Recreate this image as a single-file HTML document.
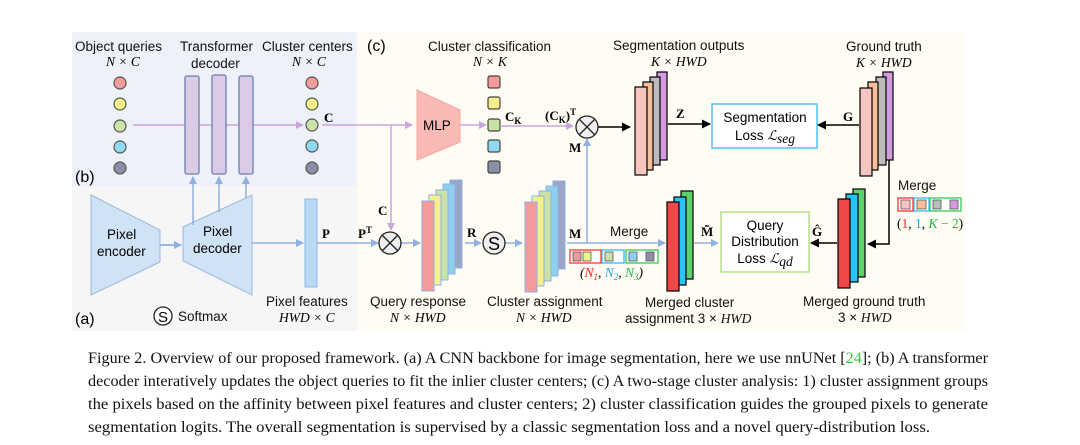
<!DOCTYPE html>
<html><head><meta charset="utf-8"><style>
html,body{margin:0;padding:0;background:#fff;}
svg{display:block;font-family:"Liberation Sans",sans-serif;}
.s{font-family:"Liberation Serif",serif;}
.l{font-size:13.5px;fill:#111;}
.m{font-family:"Liberation Serif",serif;font-style:italic;font-size:13.5px;}
.b{font-family:"Liberation Serif",serif;font-weight:bold;font-size:13px;}
</style></head><body>
<svg width="1080" height="445" viewBox="0 0 1080 445">
<defs>
<marker id="ap" markerWidth="8" markerHeight="8" refX="7" refY="4" orient="auto" markerUnits="userSpaceOnUse"><path d="M0,0 L8,4 L0,8 z" fill="#c9a6dc"/></marker>
<marker id="ab" markerWidth="8" markerHeight="8" refX="7" refY="4" orient="auto" markerUnits="userSpaceOnUse"><path d="M0,0 L8,4 L0,8 z" fill="#8fb0e0"/></marker>
<marker id="ak" markerWidth="9" markerHeight="9" refX="8" refY="4.5" orient="auto" markerUnits="userSpaceOnUse"><path d="M0,0 L9,4.5 L0,9 z" fill="#000"/></marker>
</defs>
<rect x="72" y="32" width="285" height="154" fill="#eef1fa"/>
<rect x="72" y="186" width="285" height="145" fill="#f6f6f6"/>
<rect x="357" y="32" width="608" height="299" fill="#fefcf3"/>

<!-- labels top -->
<text x="75" y="51" class="l">Object queries</text>
<text x="106" y="66" class="m">N × C</text>
<text x="180" y="51" class="l">Transformer</text>
<text x="191" y="68" class="l">decoder</text>
<text x="262" y="51" class="l">Cluster centers</text>
<text x="292" y="66" class="m">N × C</text>
<text x="367" y="51" style="font-size:16px">(c)</text>
<text x="428" y="51" class="l">Cluster classification</text>
<text x="473" y="66" class="m">N × K</text>
<text x="613" y="50" class="l">Segmentation outputs</text>
<text x="651" y="66" class="m">K × HWD</text>
<text x="846" y="51" class="l">Ground truth</text>
<text x="856" y="67" class="m">K × HWD</text>
<text x="75" y="182" style="font-size:16px">(b)</text>
<text x="75" y="324" style="font-size:16px">(a)</text>

<!-- object queries -->
<g stroke="#555" stroke-width="1.2">
<circle cx="120" cy="83" r="6" fill="#f49a9a"/><circle cx="120" cy="104" r="6" fill="#f5f08a"/><circle cx="120" cy="126" r="6" fill="#c8e2a8"/><circle cx="120" cy="147" r="6" fill="#8fd8f0"/><circle cx="120" cy="168" r="6" fill="#8a90a8"/>
<circle cx="312" cy="83" r="6" fill="#f49a9a"/><circle cx="312" cy="104" r="6" fill="#f5f08a"/><circle cx="312" cy="125" r="6" fill="#c8e2a8"/><circle cx="312" cy="146" r="6" fill="#8fd8f0"/><circle cx="312" cy="168" r="6" fill="#8a90a8"/>
</g>
<line x1="133" y1="125" x2="303" y2="125" stroke="#c9a6dc" stroke-width="1.5" marker-end="url(#ap)"/>
<g fill="#dccbe6" stroke="#6a7fb0" stroke-width="1.3">
<rect x="185" y="76" width="14" height="98" rx="2"/><rect x="212" y="75" width="14" height="99" rx="2"/><rect x="239" y="76" width="14" height="98" rx="2"/>
</g>
<text x="324" y="122" class="b">C</text>
<line x1="322" y1="125" x2="412" y2="125" stroke="#c9a6dc" stroke-width="1.5" marker-end="url(#ap)"/>
<line x1="391" y1="125" x2="391" y2="230" stroke="#c9a6dc" stroke-width="1.5" marker-end="url(#ap)"/>
<polygon points="417,90 460,110 460,142 417,160" fill="#f9b9b5" stroke="#f4a6a2"/>
<text x="423" y="130" style="font-size:13.5px">MLP</text>
<line x1="460" y1="125" x2="486" y2="125" stroke="#c9a6dc" stroke-width="1.5" marker-end="url(#ap)"/>
<g stroke="#444" stroke-width="1.2">
<rect x="488" y="76" width="12" height="12" rx="2" fill="#f49a9a"/><rect x="488" y="97" width="12" height="12" rx="2" fill="#f5f08a"/><rect x="488" y="119" width="12" height="12" rx="2" fill="#c8e2a8"/><rect x="488" y="140" width="12" height="12" rx="2" fill="#8fd8f0"/><rect x="488" y="161" width="12" height="12" rx="2" fill="#8a90a8"/>
</g>
<text x="505" y="121" class="b">C<tspan font-size="9" dy="3">K</tspan></text>
<text x="545" y="120" class="b">(C<tspan font-size="9" dy="3">K</tspan><tspan dy="-3">)</tspan><tspan font-size="9" dy="-5">T</tspan></text>
<line x1="500" y1="126" x2="573" y2="126" stroke="#c9a6dc" stroke-width="1.5" marker-end="url(#ap)"/>

<!-- pixel encoder/decoder -->
<polygon points="91,195 160,230 160,262 91,295" fill="#cfe3f5" stroke="#9ab8df"/>
<text x="107" y="239" style="font-size:13.5px">Pixel</text>
<text x="97" y="256" style="font-size:13.5px">encoder</text>
<line x1="160" y1="245" x2="181" y2="245" stroke="#8fb0e0" stroke-width="1.8" marker-end="url(#ab)"/>
<polygon points="183,227 252,195 252,295 183,261" fill="#cfe3f5" stroke="#9ab8df"/>
<text x="203" y="236" style="font-size:13.5px">Pixel</text>
<text x="193" y="253" style="font-size:13.5px">decoder</text>
<g stroke="#8fb0e0" stroke-width="1.5">
<line x1="193" y1="225" x2="193" y2="177" marker-end="url(#ab)"/><line x1="219" y1="212" x2="219" y2="177" marker-end="url(#ab)"/><line x1="246" y1="198" x2="246" y2="177" marker-end="url(#ab)"/>
<line x1="252" y1="243" x2="303" y2="243" marker-end="url(#ab)"/>
<line x1="317" y1="243" x2="378" y2="243" marker-end="url(#ab)"/>
<line x1="401" y1="243" x2="420" y2="243" marker-end="url(#ab)"/>
<line x1="482" y1="243" x2="482" y2="243"/>
<line x1="465" y1="243" x2="481" y2="243" marker-end="url(#ab)"/>
<line x1="505" y1="243" x2="522" y2="243" marker-end="url(#ab)"/>
<line x1="567" y1="243" x2="665" y2="243" marker-end="url(#ab)"/>
<line x1="587" y1="243" x2="587" y2="139" marker-end="url(#ab)"/>
<line x1="694" y1="243" x2="718" y2="243" marker-end="url(#ab)"/>
</g>
<rect x="305" y="199" width="12" height="88" fill="#b8daf5" stroke="#8fb8e8"/>
<text x="322" y="238" class="b">P</text>
<text x="358" y="238" class="b">P<tspan font-size="9" dy="-5">T</tspan></text>
<text x="378" y="215" class="b">C</text>
<g stroke="#222" stroke-width="1.3"><circle cx="390" cy="243" r="11" fill="#eee"/><line x1="382" y1="235" x2="398" y2="251"/><line x1="398" y1="235" x2="382" y2="251"/></g>
<g stroke="#222" stroke-width="1.3"><circle cx="587" cy="127" r="11" fill="#eee"/><line x1="579" y1="119" x2="595" y2="135"/><line x1="595" y1="119" x2="579" y2="135"/></g>
<line x1="598" y1="127" x2="630" y2="127" stroke="#000" stroke-width="1.5" marker-end="url(#ak)"/>
<text x="569" y="152" class="b">M</text>

<!-- query response stack -->
<g stroke="#8fb0e0" stroke-width="1">
<rect x="450" y="180" width="12" height="88" fill="#9aa6c8"/>
<rect x="443" y="184" width="12" height="90" fill="#8fd0f0"/>
<rect x="436" y="190" width="12" height="90" fill="#c8e2a8"/>
<rect x="429" y="195" width="12" height="90" fill="#f5f08a"/>
<rect x="422" y="201" width="12" height="90" fill="#f49a9a"/>
</g>
<text x="467" y="237" class="b">R</text>
<circle cx="494" cy="243" r="11" fill="#eee" stroke="#222" stroke-width="1.3"/>
<text x="494" y="250" text-anchor="middle" style="font-size:18px">S</text>
<g stroke="#8fb0e0" stroke-width="1">
<rect x="553" y="181" width="12" height="88" fill="#9aa6c8"/>
<rect x="546" y="186" width="12" height="90" fill="#8fd0f0"/>
<rect x="539" y="191" width="12" height="90" fill="#c8e2a8"/>
<rect x="532" y="196" width="12" height="90" fill="#f5f08a"/>
<rect x="525" y="202" width="12" height="90" fill="#f49a9a"/>
</g>
<text x="569" y="238" class="b">M</text>
<text x="610" y="236" class="l">Merge</text>
<g stroke-width="1.3">
<rect x="570" y="250" width="31" height="13" fill="#fff" stroke="#f33"/>
<rect x="602" y="250" width="22" height="13" fill="#fff" stroke="#3bf"/>
<rect x="626" y="250" width="32" height="13" fill="#fff" stroke="#3c5"/>
</g>
<g stroke="#555" stroke-width="0.8"><rect x="573" y="252" width="8" height="9" fill="#f49a9a"/><rect x="583" y="252" width="8" height="9" fill="#f5f08a"/><rect x="605" y="252" width="8" height="9" fill="#c8e2a8"/><rect x="629" y="252" width="8" height="9" fill="#8fd0f0"/><rect x="646" y="252" width="8" height="9" fill="#8a90a8"/></g>
<text x="580" y="277" class="m">(<tspan fill="#f22">N<tspan font-size="9" dy="3">1</tspan></tspan><tspan dy="-3">, </tspan><tspan fill="#2ae">N<tspan font-size="9" dy="3">2</tspan></tspan><tspan dy="-3">, </tspan><tspan fill="#2b4">N<tspan font-size="9" dy="3">3</tspan></tspan><tspan dy="-3">)</tspan></text>

<!-- merged cluster -->
<g stroke="#000" stroke-width="1.2">
<rect x="681" y="191" width="12" height="88" fill="#5dd16a"/>
<rect x="674" y="197" width="12" height="88" fill="#29c3f5"/>
<rect x="667" y="202" width="12" height="89" fill="#f04848"/>
</g>
<text x="701" y="236" class="b">M̃</text>
<rect x="721" y="212" width="88" height="60" fill="#fff" stroke="#b5e08a" stroke-width="1.5"/>
<text x="765" y="230" text-anchor="middle" style="font-size:13.5px">Query</text>
<text x="765" y="246" text-anchor="middle" style="font-size:13.5px">Distribution</text>
<text x="765" y="263" text-anchor="middle" style="font-size:13.5px">Loss <tspan class="m">ℒ</tspan><tspan class="m" font-size="9" dy="3">qd</tspan></text>

<!-- seg outputs -->
<g stroke="#000" stroke-width="1.2">
<rect x="657" y="72" width="10" height="88" fill="#d59ae0"/>
<rect x="650" y="77" width="10" height="88" fill="#bbb"/>
<rect x="643" y="82" width="10" height="88" fill="#f7c09a"/>
<rect x="635" y="87" width="12" height="88" fill="#f7c4c0"/>
</g>
<text x="676" y="118" class="b">Z</text>
<line x1="668" y1="124" x2="710" y2="124" stroke="#000" stroke-width="1.5" marker-end="url(#ak)"/>
<rect x="712" y="104" width="105" height="44" fill="#fff" stroke="#4cc3f0" stroke-width="1.5"/>
<text x="765" y="122" text-anchor="middle" style="font-size:13.5px">Segmentation</text>
<text x="765" y="140" text-anchor="middle" style="font-size:13.5px">Loss <tspan class="m">ℒ</tspan><tspan class="m" font-size="9" dy="3">seg</tspan></text>
<text x="843" y="121" class="b">G</text>
<line x1="859" y1="125" x2="818" y2="125" stroke="#000" stroke-width="1.5" marker-end="url(#ak)"/>
<g stroke="#000" stroke-width="1.2">
<rect x="883" y="72" width="10" height="88" fill="#d59ae0"/>
<rect x="876" y="77" width="10" height="88" fill="#bbb"/>
<rect x="868" y="82" width="10" height="88" fill="#f7c09a"/>
<rect x="860" y="88" width="12" height="88" fill="#f7c4c0"/>
</g>
<polyline points="889,160 889,244 868,244" fill="none" stroke="#000" stroke-width="1.5" marker-end="url(#ak)"/>
<text x="898" y="190" class="l">Merge</text>
<g stroke-width="1.3"><rect x="898" y="198" width="15" height="13" fill="#fff" stroke="#f33"/><rect x="914" y="198" width="15" height="13" fill="#fff" stroke="#3bf"/><rect x="930" y="198" width="31" height="13" fill="#fff" stroke="#3c5"/></g>
<g stroke="#555" stroke-width="0.8"><rect x="901" y="200" width="9" height="9" fill="#f7c4c0"/><rect x="917" y="200" width="9" height="9" fill="#f7c09a"/><rect x="933" y="200" width="8" height="9" fill="#bbb"/><rect x="950" y="200" width="8" height="9" fill="#d59ae0"/></g>
<text x="897" y="228" style="font-family:'Liberation Serif',serif;font-size:13.5px">(<tspan fill="#f22">1</tspan>, <tspan fill="#2ae">1</tspan>, <tspan fill="#2b4" font-style="italic">K</tspan><tspan fill="#2b4"> − 2</tspan>)</text>
<g stroke="#000" stroke-width="1.2">
<rect x="853" y="189" width="12" height="88" fill="#5dd16a"/>
<rect x="846" y="194" width="12" height="88" fill="#29c3f5"/>
<rect x="838" y="199" width="12" height="89" fill="#f04848"/>
</g>
<text x="812" y="236" class="b">Ĝ</text>
<line x1="837" y1="243" x2="811" y2="243" stroke="#000" stroke-width="1.5" marker-end="url(#ak)"/>

<!-- bottom labels -->
<circle cx="163" cy="316" r="9" fill="#fff" stroke="#222" stroke-width="1.3"/>
<text x="163" y="322" text-anchor="middle" style="font-size:15px">S</text>
<text x="178" y="321" class="l">Softmax</text>
<text x="266" y="306" class="l">Pixel features</text>
<text x="279" y="322" class="m">HWD × C</text>
<text x="370" y="306" class="l">Query response</text>
<text x="390" y="322" class="m">N × HWD</text>
<text x="487" y="306" class="l">Cluster assignment</text>
<text x="516" y="322" class="m">N × HWD</text>
<text x="645" y="307" class="l">Merged cluster</text>
<text x="625" y="323" class="l">assignment 3 × <tspan class="m">HWD</tspan></text>
<text x="803" y="306" class="l">Merged ground truth</text>
<text x="838" y="322" class="l">3 × <tspan class="m">HWD</tspan></text>

<!-- caption -->
<g class="s" style="font-size:16px;fill:#111">
<text x="88" y="363" textLength="900" lengthAdjust="spacingAndGlyphs">Figure 2. Overview of our proposed framework. (a) A CNN backbone for image segmentation, here we use nnUNet [<tspan fill="#3c3">24</tspan>]; (b) A transformer</text>
<text x="88" y="386" textLength="900" lengthAdjust="spacingAndGlyphs">decoder interatively updates the object queries to fit the inlier cluster centers; (c) A two-stage cluster analysis: 1) cluster assignment groups</text>
<text x="88" y="409" textLength="900" lengthAdjust="spacingAndGlyphs">the pixels based on the affinity between pixel features and cluster centers; 2) cluster classification guides the grouped pixels to generate</text>
<text x="88" y="432" textLength="842" lengthAdjust="spacingAndGlyphs">segmentation logits. The overall segmentation is supervised by a classic segmentation loss and a novel query-distribution loss.</text>
</g>
</svg>
</body></html>
